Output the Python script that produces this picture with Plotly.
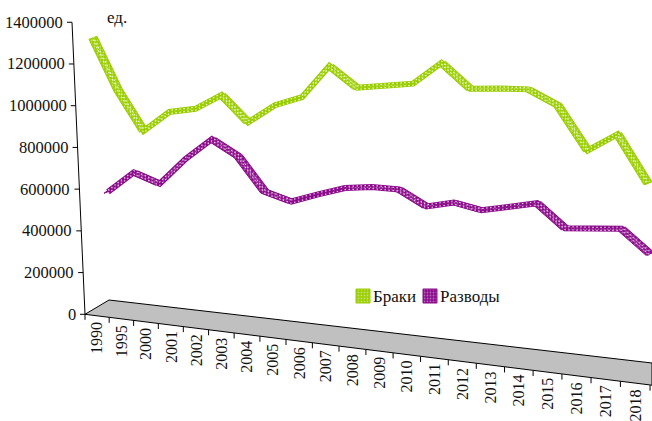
import numpy as np
import plotly.graph_objects as go

years = ["1990","1995","2000","2001","2002","2003","2004","2005","2006","2007","2008",
         "2009","2010","2011","2012","2013","2014","2015","2016","2017","2018"]
marriages = [1319000,1080000,898000,1001000,1029000,1108000,990000,1085000,1137000,1300000,1209000,
             1232000,1256000,1370000,1260000,1275000,1285000,1223000,1021000,1114000,893000]
divorces = [560000,668000,629000,764000,873000,807000,653000,621000,671000,717000,738000,
            742000,677000,712000,691000,723000,757000,654000,667000,684000,581000]
y_ticks = [0,200000,400000,600000,800000,1000000,1200000,1400000]
names = ["Браки","Разводы"]

FONT = "Liberation Serif"
SCALE = 0.0002086      # pixels per unit
ZERO = 314.3
GREEN, GREEN_LT = "#9ACD00", "#EEF8CC"
PURPLE, PURPLE_LT = "#8B0A8B", "#E0C4E0"

def V(py):
    """screen row -> value axis units"""
    return (ZERO - np.asarray(py, dtype=float)) / SCALE

idx = np.arange(len(years))

def project(values, a, b, c, base0, slope):
    """3-D look: every category sits further right / lower than the previous one"""
    x = a + b*idx + c*idx**2
    shift = slope*(x - a) + base0 - ZERO
    return x, np.asarray(values, dtype=float) - shift/SCALE

def ribbon(x, y, dx=8.0, dy=3.0):
    xs = np.concatenate([x + dx/2, (x - dx/2)[::-1], [x[0] + dx/2]])
    ys = np.concatenate([y + dy/2/SCALE, (y - dy/2/SCALE)[::-1], [y[0] + dy/2/SCALE]])
    return xs, ys

def pattern(bg, fg):
    return dict(shape=".", bgcolor=bg, fgcolor=fg, size=3, solidity=0.3, fillmode="overlay")

fig = go.Figure()

# floor
floor_x = [85, 109, 652, 652, 85]
floor_y = V([314.3, 300, 363, 385.2, 314.3])
fig.add_trace(go.Scatter(x=floor_x, y=floor_y, mode="lines", fill="toself", fillcolor="#C0C0C0",
                         line=dict(color="black", width=1), showlegend=False, hoverinfo="skip"))

# front ticks
tx = 85 + 24.03*np.arange(len(years)+1) + 0.137*np.arange(len(years)+1)**2
ty = 314.3 + 0.1254*(tx-85)
xs, ys = [], []
for a, b in zip(tx, ty):
    xs += [a, a, None]
    ys += [V(b), V(b+5.5), None]
fig.add_trace(go.Scatter(x=xs, y=ys, mode="lines", line=dict(color="black", width=1),
                         showlegend=False, hoverinfo="skip"))

# value axis
ax = lambda v: 85 - 13*np.asarray(v, dtype=float)/1400000
xs, ys = [ax(0), ax(1400000), None], [0, 1400000, None]
for v in y_ticks:
    xs += [ax(v), ax(v)-5, None]
    ys += [v, v, None]
fig.add_trace(go.Scatter(x=xs, y=ys, mode="lines", line=dict(color="black", width=1),
                         showlegend=False, hoverinfo="skip"))

# series ribbons
mx, my = project(marriages, 93, 25.05, 0.135, 313.0, 0.102)
dx_, dy_ = project(divorces, 108, 25.7, 0.07, 308.6, 0.1225)
for (x, y, c, l) in [(dx_, dy_, PURPLE, PURPLE_LT), (mx, my, GREEN, GREEN_LT)]:
    fig.add_trace(go.Scatter(x=x, y=y, mode="lines", line=dict(color=c, width=6),
                             showlegend=False, hoverinfo="skip"))
    rx, ry = ribbon(x, y)
    fig.add_trace(go.Scatter(x=rx, y=ry, mode="lines", fill="toself", fillcolor=c,
                             fillpattern=pattern(c, l), line=dict(color=c, width=1),
                             showlegend=False, hoverinfo="skip"))
    for off in (-1.6, 1.6):
        fig.add_trace(go.Scatter(x=x, y=y + off/SCALE, mode="lines",
                                 line=dict(color=l, width=1.2, dash="1.5px,2.5px"),
                                 showlegend=False, hoverinfo="skip"))

# legend swatches
for (x0, x1, c, l) in [(356, 370, GREEN, GREEN_LT), (423, 437, PURPLE, PURPLE_LT)]:
    fig.add_trace(go.Scatter(x=[x0, x1, x1, x0, x0], y=V([289, 289, 303, 303, 289]), mode="lines",
                             fill="toself", fillcolor=c, fillpattern=pattern(c, l),
                             line=dict(color=c, width=1), showlegend=False, hoverinfo="skip"))

ann = []
def text(x, y, t, size=16, xa="center", ya="middle", angle=0):
    ann.append(dict(x=x, y=y, xref="x", yref="y", text=t, showarrow=False, xanchor=xa, yanchor=ya,
                    textangle=angle, borderpad=0, font=dict(family=FONT, size=size, color="#111111")))

for v in y_ticks:
    text(float(ax(v))-8, v, str(v), size=16.5, xa="right")
for i, y in enumerate(years):
    cx = (tx[i] + tx[i+1]) / 2
    text(float(cx), float(V(314.3 + 0.1254*(cx-85) + 5)), y, ya="top", angle=-90)
text(106, float(V(17)), "ед.", size=17, xa="left")
text(372, float(V(296.5)), names[0], size=17, xa="left")
text(439, float(V(296.5)), names[1], size=17, xa="left")

fig.update_layout(
    width=652, height=421, margin=dict(l=0, r=0, t=0, b=0),
    paper_bgcolor="white", plot_bgcolor="white", showlegend=False,
    xaxis=dict(range=[0, 652], visible=False),
    yaxis=dict(range=[float(V(421)), float(V(0))], visible=False),
    annotations=ann,
)
fig.write_html("out.html", post_script="document.body.style.margin='0';document.body.style.overflow='hidden';",
               config=dict(displayModeBar=False))
